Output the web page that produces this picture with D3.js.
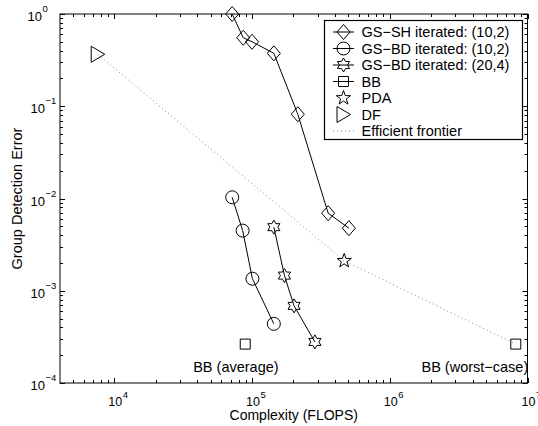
<!DOCTYPE html>
<html><head><meta charset="utf-8">
<script src="https://cdn.jsdelivr.net/npm/d3@7"></script>
<style>body{margin:0;background:#fff}svg{display:block}text{font-family:"Liberation Sans",Arial,Helvetica,sans-serif;fill:#000}</style>
</head><body>
<svg id="c" width="538" height="426"></svg>
<script>
// ---- data ----
const gsSH_x = [71800, 86300, 100000, 144000, 215000, 357000, 505000];
const gsSH_y = [1.0, 0.553, 0.50, 0.375, 0.0819, 0.00693, 0.00477];
const gsBD102_x = [71800, 85500, 100700, 144000];
const gsBD102_y = [0.0103, 0.00449, 0.00135, 0.000438];
const gsBD204_x = [144000, 172000, 202000, 286000];
const gsBD204_y = [0.00489, 0.00146, 0.000686, 0.000279];
const bb_x = [89300, 8220000];
const bb_y = [0.000264, 0.000264];
const pda_x = [467000];
const pda_y = [0.00211];
const df_x = [7580];
const df_y = [0.366];
const frontier_x = [7580, 467000, 8220000];
const frontier_y = [0.366, 0.00211, 0.000264];
const xTickExps = [4, 5, 6, 7];
const yTickExps = [-4, -3, -2, -1, 0];
const legendLabels = ["GS\u2212SH iterated: (10,2)", "GS\u2212BD iterated: (10,2)", "GS\u2212BD iterated: (20,4)", "BB", "PDA", "DF", "Efficient frontier"];
const annotations = [{text: "BB (average)", x: 76400, y: 1.30e-4}, {text: "BB (worst\u2212case)", x: 4150000, y: 1.33e-4}];

// ---- layout ----
const L = 60, R = 527.5, T = 14, B = 383;
const FS = 14.5;
const svg = d3.select("#c");
const x = d3.scaleLog().domain([4036, 1e7]).range([L, R]);
const y = d3.scaleLog().domain([1e-4, 1]).range([B, T]);

// frame
svg.append("rect").attr("x", L).attr("y", T).attr("width", R - L).attr("height", B - T)
  .attr("fill", "none").attr("stroke", "#000").attr("stroke-width", 1);

// ticks
const maj = 5, mnr = 3;
const xMinor = [], yMinor = [];
for (let e = 3; e < 7; e++) for (let m = 2; m < 10; m++) { const v = m * Math.pow(10, e); if (v >= 4036 && v <= 1e7) xMinor.push(v); }
for (let e = -4; e < 0; e++) for (let m = 2; m < 10; m++) yMinor.push(m * Math.pow(10, e));
const tg = svg.append("g").attr("stroke", "#000").attr("stroke-width", 1);
function xt(v, len) {
  const px = Math.round(x(v)) + 0.5;
  tg.append("line").attr("x1", px).attr("x2", px).attr("y1", B).attr("y2", B - len);
  tg.append("line").attr("x1", px).attr("x2", px).attr("y1", T).attr("y2", T + len);
}
function yt(v, len) {
  const py = Math.round(y(v)) + 0.5;
  tg.append("line").attr("x1", L).attr("x2", L + len).attr("y1", py).attr("y2", py);
  tg.append("line").attr("x1", R).attr("x2", R - len).attr("y1", py).attr("y2", py);
}
xMinor.forEach(v => xt(v, mnr));
xTickExps.forEach(e => xt(Math.pow(10, e), maj));
yMinor.forEach(v => yt(v, mnr));
yTickExps.forEach(e => yt(Math.pow(10, e), maj));

// tick labels
xTickExps.forEach(e => {
  const px = x(Math.pow(10, e));
  svg.append("text").attr("x", px + 1).attr("y", 406).attr("text-anchor", "middle").attr("font-size", 12.5).text("10");
  svg.append("text").attr("x", px + 8.5).attr("y", 397.5).attr("font-size", 9.5).text(String(e));
});
yTickExps.forEach(e => {
  const py = y(Math.pow(10, e));
  const ex = e < 0 ? "\u2212" + (-e) : String(e);
  svg.append("text").attr("x", e < 0 ? 45 : 42).attr("y", py + 7).attr("text-anchor", "end").attr("font-size", 13).text("10");
  svg.append("text").attr("x", e < 0 ? 45.5 : 42.5).attr("y", py - 2).attr("font-size", 9.5).text(ex);
});

// axis labels
svg.append("text").attr("x", (L + R) / 2).attr("y", 420).attr("text-anchor", "middle").attr("font-size", 14).text("Complexity (FLOPS)");
svg.append("text").attr("transform", `translate(21.5,${(T + B) / 2}) rotate(-90)`).attr("text-anchor", "middle").attr("font-size", FS).text("Group Detection Error");

// marker shapes
function starPath(n, ro, ri) {
  const pts = [];
  for (let i = 0; i < 2 * n; i++) {
    const a = -Math.PI / 2 + i * Math.PI / n;
    const r = i % 2 === 0 ? ro : ri;
    pts.push([r * Math.cos(a), r * Math.sin(a)]);
  }
  return "M" + pts.map(p => p[0].toFixed(2) + "," + p[1].toFixed(2)).join("L") + "Z";
}
const shapes = {
  diamond: "M0,-7.5L6.5,0L0,7.5L-6.5,0Z",
  circle: "M6.5,0A6.5,6.5 0 1,1 -6.5,0A6.5,6.5 0 1,1 6.5,0Z",
  square: "M-5,-5H5V5H-5Z",
  hexagram: starPath(6, 7, 7 / Math.sqrt(3)),
  pentagram: starPath(5, 7.5, 3.0),
  triangle: "M-6.5,-8L7,0L-6.5,8Z"
};

const line = d3.line().x(d => x(d[0])).y(d => y(d[1]));
const zip = (a, b) => a.map((v, i) => [v, b[i]]);
const plot = svg.append("g");

// frontier (dotted)
plot.append("path").attr("d", line(zip(frontier_x, frontier_y))).attr("fill", "none")
  .attr("stroke", "#888").attr("stroke-width", 1).attr("stroke-dasharray", "1,3");

function series(xs, ys, shape, withLine) {
  const pts = zip(xs, ys);
  if (withLine) plot.append("path").attr("d", line(pts)).attr("fill", "none").attr("stroke", "#000").attr("stroke-width", 1);
  pts.forEach(p => plot.append("path").attr("d", shapes[shape])
    .attr("transform", `translate(${x(p[0])},${y(p[1])})`)
    .attr("fill", "none").attr("stroke", "#000").attr("stroke-width", 1));
}
series(gsSH_x, gsSH_y, "diamond", true);
series(gsBD102_x, gsBD102_y, "circle", true);
series(gsBD204_x, gsBD204_y, "hexagram", true);
series(bb_x, bb_y, "square", false);
series(pda_x, pda_y, "pentagram", false);
series(df_x, df_y, "triangle", false);

// annotations
annotations.forEach(a => svg.append("text").attr("x", x(a.x)).attr("y", y(a.y)).attr("text-anchor", "middle").attr("font-size", FS).text(a.text));

// legend
const lg = svg.append("g");
lg.append("rect").attr("x", 324.5).attr("y", 20.5).attr("width", 198).attr("height", 119).attr("fill", "#fff").attr("stroke", "#000").attr("stroke-width", 1.2);
const legShapes = ["diamond", "circle", "hexagram", "square", "pentagram", "triangle", null];
const legLine = [true, true, true, true, false, false, "dot"];
legendLabels.forEach((lab, i) => {
  const cy = 32 + i * 16.5;
  if (legLine[i] === true) lg.append("line").attr("x1", 333).attr("x2", 354).attr("y1", cy).attr("y2", cy).attr("stroke", "#000");
  if (legLine[i] === "dot") lg.append("line").attr("x1", 333).attr("x2", 354).attr("y1", cy).attr("y2", cy).attr("stroke", "#888").attr("stroke-dasharray", "1,3");
  if (legShapes[i]) lg.append("path").attr("d", shapes[legShapes[i]]).attr("transform", `translate(343.5,${cy})`).attr("fill", "none").attr("stroke", "#000");
  lg.append("text").attr("x", 361.5).attr("y", cy + 5).attr("font-size", FS).text(lab);
});
</script>
</body></html>
